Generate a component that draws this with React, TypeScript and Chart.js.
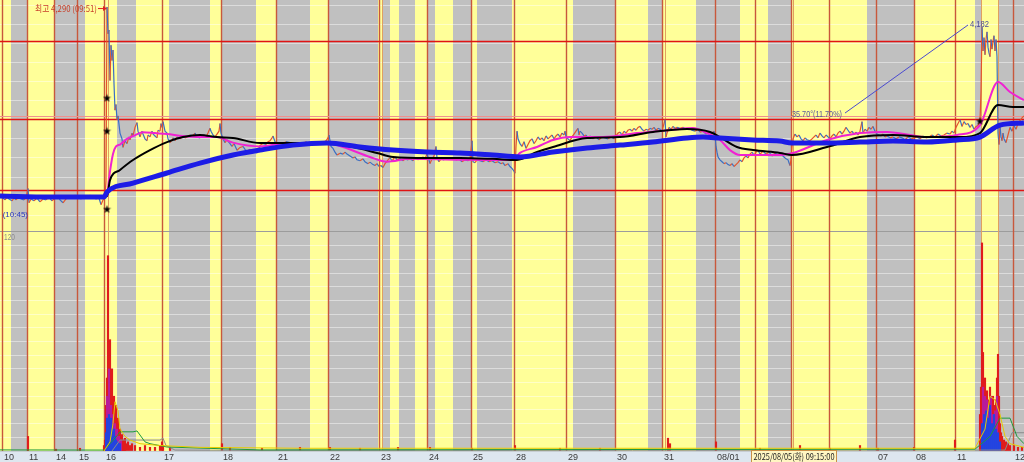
import React, { useEffect, useRef } from "react";
import { Chart, registerables } from "chart.js";

Chart.register(...registerables);

// ---------- time axis (sample index) ----------
const dayStarts = [2, 27, 54, 77, 104, 162, 221, 276, 328, 379, 427, 471, 514, 566, 615, 662, 715, 755, 791, 829, 876, 914, 955, 1013];
const dayLabels = ["10", "11", "14", "15", "16", "17", "18", "21", "22", "23", "24", "25", "28", "29", "30", "31", "08/01", "04", "05", "06", "07", "08", "11", "12"];
const sessionMarks = [108, 382, 665, 793, 981, 998];
const regularSessions: [number, number][] = [
  [0, 11], [27, 54], [85, 117], [136, 169], [210, 221], [256, 276], [310, 328], [378, 383], [390, 399],
  [415, 427], [435, 453], [471, 477], [512, 573], [615, 648], [662, 696], [740, 768], [791, 867], [914, 975], [981, 998],
];
const xMin = 0;
const xMax = 1024;

// ---------- price (won) ----------
const priceMin = 1965;
const priceMax = 4327;
const priceGrid = [3200, 3300, 3400, 3500, 3600, 3700, 3800, 3900, 4000, 4100, 4200, 4300];
const levelLines = [4110, 3705, 3330];
const softLevelLines = [3717];

const priceTicks: [number, number][] = [
  [0, 3300], [3, 3290], [5, 3280], [7, 3295], [9, 3285], [12, 3275], [14, 3290], [16, 3280], [19, 3295], [21, 3285], [24, 3280], [26, 3290],
  [28, 3340], [29, 3265], [31, 3285], [34, 3275], [37, 3290], [40, 3270], [43, 3285], [46, 3280], [49, 3295], [52, 3275], [55, 3290],
  [58, 3300], [60, 3280], [63, 3265], [66, 3285], [69, 3300], [72, 3290], [75, 3305], [78, 3295], [81, 3285], [84, 3300], [87, 3290],
  [90, 3305], [93, 3295], [96, 3285], [99, 3290], [101, 3255], [103, 3280], [105, 3300], [106, 3380], [107, 4290], [108, 4150],
  [109, 4170], [110, 3905], [111, 4090], [112, 4010], [113, 4065], [114, 3890], [115, 3750], [116, 3780], [117, 3700], [118, 3720],
  [120, 3630], [122, 3600], [123, 3555], [125, 3590], [127, 3575], [129, 3610], [130, 3595], [132, 3630], [133, 3615], [135, 3660],
  [137, 3685], [138, 3640], [140, 3610], [142, 3640], [143, 3625], [145, 3600], [147, 3590], [148, 3620], [150, 3610], [152, 3640],
  [153, 3625], [155, 3615], [157, 3605], [158, 3645], [160, 3640], [161, 3680], [162, 3660], [163, 3690], [165, 3640], [167, 3630],
  [168, 3600], [170, 3580], [172, 3595], [173, 3605], [175, 3590], [177, 3610], [180, 3600], [183, 3615], [185, 3605], [187, 3610],
  [190, 3620], [193, 3615], [195, 3630], [197, 3610], [200, 3605], [203, 3620], [206, 3610], [208, 3630], [210, 3655], [211, 3640],
  [213, 3620], [215, 3610], [217, 3625], [219, 3640], [220, 3680], [221, 3630], [223, 3600], [225, 3580], [227, 3595], [230, 3575],
  [232, 3560], [234, 3575], [237, 3540], [240, 3555], [243, 3560], [245, 3545], [247, 3535], [250, 3545], [253, 3530], [255, 3535],
  [257, 3525], [260, 3565], [263, 3575], [266, 3570], [268, 3585], [270, 3590], [272, 3605], [273, 3615], [275, 3585], [277, 3570],
  [280, 3580], [283, 3575], [286, 3585], [290, 3580], [293, 3575], [296, 3570], [300, 3580], [303, 3575], [306, 3585], [310, 3570],
  [313, 3580], [316, 3575], [320, 3585], [323, 3580], [326, 3590], [328, 3605], [329, 3620], [331, 3560], [333, 3550], [335, 3530],
  [337, 3515], [340, 3525], [343, 3520], [345, 3530], [347, 3520], [350, 3510], [353, 3500], [355, 3505], [357, 3490], [360, 3485],
  [363, 3495], [365, 3480], [368, 3470], [370, 3478], [373, 3465], [375, 3460], [377, 3470], [379, 3455], [381, 3460], [383, 3450],
  [385, 3470], [388, 3490], [390, 3500], [392, 3485], [395, 3505], [397, 3490], [400, 3495], [403, 3485], [405, 3495], [408, 3490],
  [410, 3495], [413, 3485], [415, 3500], [418, 3490], [420, 3495], [423, 3505], [425, 3495], [427, 3520], [429, 3490], [430, 3470],
  [432, 3495], [434, 3510], [436, 3560], [437, 3500], [439, 3480], [441, 3495], [444, 3490], [447, 3500], [450, 3495], [453, 3500],
  [456, 3490], [459, 3495], [462, 3480], [465, 3490], [468, 3485], [470, 3495], [471, 3540], [472, 3590], [473, 3480], [475, 3475],
  [477, 3490], [480, 3485], [483, 3480], [486, 3490], [489, 3480], [492, 3485], [495, 3475], [498, 3480], [501, 3470], [503, 3475],
  [505, 3460], [508, 3470], [510, 3455], [512, 3445], [514, 3430], [515, 3420], [516, 3560], [517, 3640], [518, 3600], [520, 3575],
  [522, 3560], [524, 3585], [526, 3550], [528, 3570], [530, 3590], [532, 3600], [534, 3575], [536, 3590], [538, 3610], [540, 3595],
  [542, 3605], [544, 3590], [546, 3615], [548, 3600], [550, 3610], [552, 3620], [554, 3600], [556, 3615], [558, 3625], [560, 3610],
  [562, 3630], [564, 3620], [565, 3640], [566, 3610], [568, 3600], [570, 3590], [572, 3610], [574, 3625], [576, 3640], [578, 3655],
  [579, 3620], [580, 3640], [582, 3630], [584, 3615], [586, 3620], [588, 3605], [590, 3615], [593, 3600], [596, 3610], [599, 3595],
  [602, 3610], [605, 3605], [608, 3600], [611, 3610], [614, 3600], [616, 3615], [618, 3630], [620, 3635], [622, 3620], [624, 3640],
  [626, 3630], [628, 3645], [630, 3650], [632, 3640], [634, 3655], [636, 3645], [638, 3660], [640, 3665], [642, 3650], [644, 3640],
  [646, 3650], [648, 3645], [650, 3655], [652, 3650], [654, 3660], [656, 3645], [658, 3655], [660, 3650], [662, 3640], [664, 3680],
  [665, 3700], [666, 3610], [667, 3630], [669, 3660], [671, 3650], [673, 3665], [675, 3655], [677, 3660], [680, 3655], [683, 3660],
  [686, 3650], [689, 3655], [692, 3645], [695, 3640], [698, 3650], [700, 3635], [703, 3640], [706, 3625], [709, 3635], [712, 3630],
  [714, 3640], [715, 3620], [716, 3560], [717, 3530], [718, 3505], [720, 3490], [722, 3480], [724, 3470], [726, 3475], [728, 3465],
  [730, 3460], [732, 3470], [734, 3455], [736, 3465], [738, 3475], [740, 3490], [742, 3480], [744, 3500], [746, 3510], [748, 3500],
  [750, 3520], [752, 3530], [754, 3515], [756, 3530], [758, 3540], [760, 3520], [763, 3535], [766, 3520], [769, 3530], [772, 3510],
  [775, 3525], [778, 3515], [781, 3520], [784, 3505], [786, 3495], [788, 3490], [789, 3475], [790, 3460], [791, 3490], [792, 3560],
  [793, 3600], [795, 3625], [797, 3610], [799, 3620], [801, 3600], [803, 3590], [805, 3605], [807, 3595], [810, 3590], [812, 3600],
  [814, 3610], [816, 3620], [818, 3605], [820, 3630], [822, 3615], [824, 3605], [826, 3620], [828, 3610], [830, 3600], [832, 3615],
  [834, 3625], [836, 3610], [838, 3630], [840, 3640], [842, 3625], [844, 3640], [846, 3660], [848, 3645], [850, 3630], [852, 3640],
  [854, 3625], [856, 3635], [858, 3620], [860, 3640], [862, 3690], [863, 3630], [865, 3650], [867, 3640], [869, 3660], [871, 3650],
  [873, 3665], [875, 3640], [877, 3625], [879, 3620], [881, 3615], [883, 3625], [885, 3610], [887, 3615], [890, 3605], [893, 3610],
  [896, 3600], [899, 3610], [902, 3605], [905, 3595], [908, 3610], [911, 3600], [914, 3605], [917, 3610], [920, 3600], [923, 3615],
  [926, 3605], [929, 3610], [932, 3620], [935, 3610], [938, 3625], [941, 3615], [944, 3620], [947, 3630], [950, 3625], [952, 3640],
  [954, 3630], [956, 3660], [958, 3680], [960, 3700], [962, 3665], [964, 3690], [966, 3675], [968, 3680], [970, 3660], [972, 3675],
  [974, 3650], [976, 3665], [978, 3670], [980, 3690], [981, 3850], [982, 4185], [983, 4060], [984, 4130], [985, 4040], [986, 4120],
  [987, 4160], [988, 4080], [989, 4050], [990, 4030], [991, 4120], [992, 4070], [993, 4110], [994, 4140], [995, 4060], [996, 4120],
  [997, 4030], [998, 3630], [999, 3570], [1000, 3665], [1001, 3610], [1002, 3590], [1003, 3630], [1004, 3600], [1006, 3580],
  [1008, 3620], [1010, 3660], [1012, 3640], [1014, 3670], [1016, 3650], [1018, 3680], [1020, 3695], [1022, 3710], [1024, 3720],
];

const maShort: [number, number][] = [
  [0, 3295], [104, 3295], [107, 3310], [110, 3430], [113, 3520], [116, 3560], [120, 3570], [127, 3600], [133, 3614], [143, 3635],
  [155, 3630], [167, 3625], [183, 3615], [200, 3610], [217, 3609], [233, 3580], [260, 3560], [287, 3578], [327, 3578], [343, 3557],
  [370, 3505], [387, 3480], [410, 3495], [460, 3490], [493, 3489], [513, 3489], [520, 3526], [537, 3557], [553, 3594], [570, 3609],
  [603, 3609], [637, 3630], [670, 3646], [693, 3656], [707, 3630], [720, 3594], [730, 3541], [740, 3515], [753, 3515], [780, 3515],
  [793, 3526], [827, 3594], [860, 3630], [887, 3636], [927, 3609], [957, 3620], [980, 3672], [998, 3897], [1010, 3845], [1024, 3803],
];
const maMid: [number, number][] = [
  [0, 3300], [104, 3298], [107, 3300], [110, 3384], [120, 3437], [133, 3489], [150, 3541], [167, 3583], [183, 3609], [200, 3620],
  [217, 3609], [233, 3604], [260, 3578], [293, 3578], [327, 3578], [353, 3557], [377, 3526], [393, 3505], [427, 3500], [460, 3500],
  [493, 3495], [517, 3489], [537, 3531], [553, 3557], [587, 3604], [620, 3609], [653, 3636], [687, 3651], [710, 3636], [720, 3609],
  [737, 3557], [753, 3541], [780, 3526], [792, 3515], [827, 3557], [860, 3609], [893, 3620], [927, 3609], [960, 3609], [980, 3630],
  [998, 3777], [1013, 3767], [1024, 3767],
];
const maLong: [number, number][] = [
  [0, 3300], [50, 3295], [104, 3295], [107, 3321], [133, 3368], [167, 3421], [200, 3473], [233, 3515], [260, 3541], [293, 3567],
  [327, 3578], [360, 3557], [393, 3541], [427, 3531], [460, 3526], [493, 3515], [520, 3505], [553, 3531], [587, 3552], [620, 3567],
  [653, 3583], [687, 3604], [703, 3609], [720, 3604], [753, 3594], [780, 3588], [792, 3578], [827, 3578], [860, 3583], [893, 3588],
  [927, 3583], [957, 3594], [980, 3609], [1000, 3672], [1024, 3683],
];

const signalStars: [number, number][] = [[107, 3814], [107, 3641], [107, 3232], [980, 3693]];
const trendLine: [number, number][] = [[845, 3735], [968, 4196]];
const trendLabel = "35.70°(11.70%)";
const highMark = { x: 107, price: 4290, label: "최고 4,290 (09:51)" };
const lowMark = { x: 28, price: 3201, label: "3,165 (10:45)" };
const recentHigh = { x: 982, price: 4185, label: "4,182" };
const cursorX = 793;
const cursorHalfSpan = 45;
const cursorLabel = "2025/08/05(화) 09:15:00";

// ---------- volume (thousand shares) ----------
const volumeMax = 247.1;
const volumeGrid = [0, 7.5, 15, 22.5, 30, 37.5, 45, 52.5, 60, 67.5, 75, 82.5, 90, 97.5, 105, 112.5, 120];
const volumeTop = 120;

const volUp: [number, number][] = [
  [28, 8], [56, 1], [80, 1.5], [104, 3], [105, 6], [106, 25], [107, 40], [108, 107], [109, 50], [110, 61], [111, 35], [112, 45],
  [113, 28], [114, 30], [115, 20], [116, 25], [117, 15], [118, 18], [119, 10], [120, 12], [121, 8], [122, 9], [123, 6], [124, 5],
  [125, 7], [126, 4], [128, 5], [130, 3], [132, 4], [135, 3], [140, 2], [145, 3], [150, 2], [155, 2], [160, 3], [162, 5], [163, 3],
  [170, 2], [222, 4], [230, 2], [262, 1.5], [300, 2], [330, 2], [360, 1.5], [398, 2], [430, 2], [472, 1.5], [515, 3], [560, 1.5],
  [600, 1.5], [668, 7], [670, 4], [716, 5], [760, 1.5], [800, 3], [830, 1.5], [860, 3], [878, 1.5], [914, 2], [955, 6], [980, 20],
  [981, 35], [982, 114], [983, 54], [984, 30], [985, 40], [986, 25], [987, 33], [988, 28], [989, 20], [990, 35], [991, 22],
  [992, 18], [993, 30], [994, 25], [995, 20], [996, 28], [997, 40], [998, 53], [999, 30], [1000, 15], [1001, 10], [1002, 8],
  [1004, 6], [1006, 5], [1008, 4], [1010, 3], [1014, 3], [1018, 2], [1022, 2],
];
const volMixed: [number, number][] = [
  [107, 30], [109, 45], [111, 25], [113, 20], [115, 15], [117, 12], [119, 8], [121, 6], [983, 35], [985, 30], [987, 28],
  [989, 25], [991, 30], [993, 20], [995, 22], [997, 30],
];
const volDown: [number, number][] = [
  [106, 10], [107, 18], [108, 15], [109, 20], [110, 12], [111, 18], [112, 14], [113, 10], [114, 12], [115, 8], [116, 6], [118, 5],
  [120, 4], [982, 15], [984, 20], [986, 22], [988, 18], [990, 25], [992, 15], [994, 20], [996, 12], [998, 10], [1000, 5],
];
const volAvgShort: [number, number][] = [
  [104, 0], [110, 5], [113, 15], [115, 27], [118, 22], [120, 12], [125, 8], [130, 6], [140, 4], [160, 3], [200, 2], [300, 1.5],
  [600, 1.5], [975, 1.5], [985, 12], [990, 30], [995, 28], [1000, 20], [1005, 8], [1010, 4], [1024, 2],
];
const volAvgMid: [number, number][] = [
  [0, 0.6], [104, 0.5], [110, 4], [118, 9], [120, 10.5], [133, 10.5], [137, 11], [145, 5], [150, 4], [167, 2.2], [200, 1.6],
  [260, 0.6], [600, 0.8], [975, 1], [990, 8], [1000, 18], [1010, 18], [1017, 8], [1024, 4],
];
const volAvgLong: [number, number][] = [
  [112, 0], [120, 6], [160, 6], [163, 7], [166, 3], [175, 0.5], [260, 0.3], [1005, 0.5], [1012, 10], [1024, 10],
];

// ---------- helpers ----------
const pts = (a: [number, number][]) => a.map(([x, y]) => ({ x, y }));

function makeStar(): HTMLCanvasElement {
  const c = document.createElement("canvas");
  c.width = 9;
  c.height = 9;
  const g = c.getContext("2d")!;
  g.fillStyle = "#000";
  g.beginPath();
  for (let i = 0; i < 10; i++) {
    const r = i % 2 ? 1.7 : 4.2;
    const a = -Math.PI / 2 + (i * Math.PI) / 5;
    g.lineTo(4.5 + r * Math.cos(a), 4.8 + r * Math.sin(a));
  }
  g.closePath();
  g.fill();
  return c;
}

function fitText(ctx: CanvasRenderingContext2D, text: string, x: number, y: number, w: number) {
  const m = ctx.measureText(text).width || 1;
  ctx.save();
  ctx.translate(x, y);
  ctx.scale(w / m, 1);
  ctx.textAlign = "left";
  ctx.fillText(text, 0, 0);
  ctx.restore();
}

const decor = {
  id: "decor",
  beforeDraw(chart: any) {
    const { ctx, chartArea: a, scales } = chart;
    const x = scales.x;
    ctx.save();
    ctx.fillStyle = "#c0c0c0";
    ctx.fillRect(a.left, a.top, a.right - a.left, a.bottom - a.top);
    ctx.fillStyle = "#ffff99";
    for (const [s, e] of regularSessions) {
      const x0 = x.getPixelForValue(s);
      const x1 = x.getPixelForValue(e);
      ctx.fillRect(x0, a.top, x1 - x0, a.bottom - a.top);
    }
    ctx.fillStyle = "#dde6ef";
    ctx.fillRect(0, a.bottom, chart.width, chart.height - a.bottom);
    ctx.strokeStyle = "#9aa4ae";
    ctx.lineWidth = 1;
    ctx.beginPath();
    ctx.moveTo(0, a.bottom + 0.5);
    ctx.lineTo(chart.width, a.bottom + 0.5);
    ctx.stroke();
    ctx.restore();
  },
  beforeDatasetsDraw(chart: any) {
    const { ctx, chartArea: a, scales } = chart;
    const x = scales.x;
    const y = scales.y;
    ctx.save();
    ctx.lineWidth = 1;
    ctx.strokeStyle = "#e0a060";
    for (const v of sessionMarks) {
      const px = Math.round(x.getPixelForValue(v)) + 0.5;
      ctx.beginPath();
      ctx.moveTo(px, a.top);
      ctx.lineTo(px, a.bottom);
      ctx.stroke();
    }
    ctx.lineWidth = 1.4;
    ctx.strokeStyle = "#c8583c";
    for (const v of dayStarts) {
      const px = Math.round(x.getPixelForValue(v)) + 0.5;
      ctx.beginPath();
      ctx.moveTo(px, a.top);
      ctx.lineTo(px, a.bottom);
      ctx.stroke();
    }
    ctx.lineWidth = 1;
    ctx.strokeStyle = "#f09090";
    for (const v of softLevelLines) {
      const py = Math.round(y.getPixelForValue(v)) + 0.5;
      ctx.beginPath();
      ctx.moveTo(a.left, py);
      ctx.lineTo(a.right, py);
      ctx.stroke();
    }
    ctx.lineWidth = 1.5;
    ctx.strokeStyle = "#e01414";
    for (const v of levelLines) {
      const py = Math.round(y.getPixelForValue(v)) + 0.5;
      ctx.beginPath();
      ctx.moveTo(a.left, py);
      ctx.lineTo(a.right, py);
      ctx.stroke();
    }
    ctx.restore();
  },
  afterDatasetsDraw(chart: any) {
    const { ctx, scales } = chart;
    const x = scales.x;
    const y = scales.y;
    const y2 = scales.y2;
    ctx.save();
    ctx.textBaseline = "middle";
    // highest price
    const hx = x.getPixelForValue(highMark.x);
    const hy = y.getPixelForValue(highMark.price);
    ctx.font = "9px 'Noto Sans CJK KR', 'DejaVu Sans', sans-serif";
    ctx.fillStyle = "#c8402a";
    fitText(ctx, highMark.label, hx - 72, hy + 1.5, 62);
    ctx.strokeStyle = "#e02020";
    ctx.lineWidth = 1;
    ctx.beginPath();
    ctx.moveTo(hx - 9, hy + 1.5);
    ctx.lineTo(hx - 1, hy + 1.5);
    ctx.stroke();
    ctx.fillStyle = "#e02020";
    ctx.beginPath();
    ctx.moveTo(hx, hy + 1.5);
    ctx.lineTo(hx - 4, hy - 1);
    ctx.lineTo(hx - 4, hy + 4);
    ctx.closePath();
    ctx.fill();
    // lowest label (clipped at left edge)
    const lx = x.getPixelForValue(lowMark.x);
    const ly = y.getPixelForValue(lowMark.price);
    ctx.font = "8px 'Liberation Sans', sans-serif";
    ctx.fillStyle = "#2838c0";
    const lw = ctx.measureText(lowMark.label).width;
    fitText(ctx, lowMark.label, lx - lw, ly, lw);
    // recent high
    const rx = x.getPixelForValue(recentHigh.x);
    const ry = y.getPixelForValue(recentHigh.price);
    ctx.font = "9px 'Liberation Sans', sans-serif";
    ctx.fillStyle = "#4a4a9a";
    fitText(ctx, recentHigh.label, rx - 12, ry - 3, 19);
    // trend label
    const tx = x.getPixelForValue(trendLine[0][0]);
    const ty = y.getPixelForValue(trendLine[0][1]);
    ctx.fillStyle = "#5a5a9a";
    fitText(ctx, trendLabel, tx - 53, ty + 1, 50);
    // volume pane top value
    ctx.fillStyle = "#8c8c8c";
    fitText(ctx, String(volumeTop), 4, y2.getPixelForValue(volumeTop) + 6, 11);
    ctx.restore();
  },
  afterDraw(chart: any) {
    const { ctx, chartArea: a, scales } = chart;
    const cx = scales.x.getPixelForValue(cursorX);
    ctx.save();
    const w = 85;
    const h = 12;
    const left = Math.round(cx - w / 2) + 0.5;
    const top = a.bottom - 1 + 0.5;
    ctx.fillStyle = "#fff6c2";
    ctx.fillRect(left, top, w, h);
    ctx.strokeStyle = "#c89048";
    ctx.lineWidth = 1;
    ctx.strokeRect(left, top, w, h);
    ctx.fillStyle = "#222";
    ctx.font = "9px 'Noto Sans CJK KR', 'Liberation Sans', sans-serif";
    ctx.textBaseline = "middle";
    fitText(ctx, cursorLabel, left + 2, top + h / 2 + 0.5, w - 4);
    ctx.restore();
  },
};

export default function App() {
  const ref = useRef<HTMLCanvasElement>(null);
  useEffect(() => {
    if (!ref.current) return;
    const star = makeStar();
    const chart = new Chart(ref.current, {
      type: "line",
      data: {
        datasets: [
          { label: "trend", data: pts(trendLine), borderColor: "#4a4ad0", borderWidth: 1, pointRadius: 0, order: 0, yAxisID: "y" },
          {
            label: "signal", data: pts(signalStars), showLine: false, pointStyle: star as any, pointRadius: 4,
            order: 0, yAxisID: "y",
          },
          { label: "MA long", data: pts(maLong), borderColor: "#1c1ce6", borderWidth: 5, pointRadius: 0, cubicInterpolationMode: "monotone", order: 1, yAxisID: "y" },
          { label: "MA mid", data: pts(maMid), borderColor: "#000000", borderWidth: 2, pointRadius: 0, cubicInterpolationMode: "monotone", order: 2, yAxisID: "y" },
          { label: "MA short", data: pts(maShort), borderColor: "#f022d2", borderWidth: 2, pointRadius: 0, cubicInterpolationMode: "monotone", order: 3, yAxisID: "y" },
          {
            label: "price", data: pts(priceTicks), borderWidth: 1.2, pointRadius: 0, order: 4, yAxisID: "y",
            borderColor: "#3a6fc4",
            segment: {
              borderColor: (c: any) => (c.p1.parsed.y >= c.p0.parsed.y ? "#e4542c" : "#3a6fc4"),
            },
          },
          { label: "vol avg short", data: pts(volAvgShort), borderColor: "#e6cc00", borderWidth: 1, pointRadius: 0, order: 5, yAxisID: "y2" },
          { label: "vol avg mid", data: pts(volAvgMid), borderColor: "#1f9a3c", borderWidth: 1, pointRadius: 0, order: 5, yAxisID: "y2" },
          { label: "vol avg long", data: pts(volAvgLong), borderColor: "#8a8a8a", borderWidth: 1, pointRadius: 0, order: 5, yAxisID: "y2" },
          { type: "bar", label: "vol down", data: pts(volDown), backgroundColor: "#2444e0", barThickness: 1.5, grouped: false, order: 6, yAxisID: "y2" } as any,
          { type: "bar", label: "vol mixed", data: pts(volMixed), backgroundColor: "#b81c9a", barThickness: 1.5, grouped: false, order: 7, yAxisID: "y2" } as any,
          { type: "bar", label: "vol up", data: pts(volUp), backgroundColor: "#e01c1c", barThickness: 1.5, grouped: false, order: 8, yAxisID: "y2" } as any,
        ],
      },
      options: {
        animation: false,
        responsive: true,
        maintainAspectRatio: false,
        events: [],
        layout: { padding: 0, autoPadding: false },
        plugins: { legend: { display: false }, tooltip: { enabled: false } },
        scales: {
          x: {
            type: "linear",
            min: xMin,
            max: xMax,
            offset: false,
            grid: { display: false, drawTicks: false, offset: false },
            border: { display: false },
            afterBuildTicks: (s: any) => {
              s.ticks = dayStarts.map((v) => ({ value: v }));
            },
            afterFit: (s: any) => {
              s.height = 11;
              s.paddingLeft = 0;
              s.paddingRight = 0;
            },
            ticks: {
              autoSkip: false,
              maxRotation: 0,
              minRotation: 0,
              align: "start",
              labelOffset: 2,
              padding: 1,
              color: "#3a3a3a",
              font: { family: "'Liberation Sans', sans-serif", size: 9 },
              // labels hidden beneath the crosshair time label are not shown
              callback: (v: any, i: number) =>
                Math.abs(Number(v) - cursorX) <= cursorHalfSpan ? "" : dayLabels[i] ?? "",
            },
          },
          y: {
            type: "linear",
            position: "left",
            min: priceMin,
            max: priceMax,
            border: { display: false },
            ticks: { display: false },
            afterBuildTicks: (s: any) => {
              s.ticks = priceGrid.map((v) => ({ value: v }));
            },
            afterFit: (s: any) => {
              s.width = 0;
            },
            grid: { color: "rgba(255,255,255,0.45)", drawTicks: false, lineWidth: 1 },
          },
          y2: {
            type: "linear",
            position: "right",
            min: 0,
            max: volumeMax,
            border: { display: false },
            ticks: { display: false },
            afterBuildTicks: (s: any) => {
              s.ticks = volumeGrid.map((v) => ({ value: v }));
            },
            afterFit: (s: any) => {
              s.width = 0;
            },
            grid: {
              drawTicks: false,
              lineWidth: 1,
              color: (c: any) => (c.tick && c.tick.value === volumeTop ? "#9c9c9c" : "rgba(255,255,255,0.45)"),
            },
          },
        },
      } as any,
      plugins: [decor],
    });
    return () => chart.destroy();
  }, []);

  return (
    <div style={{ position: "fixed", left: 0, top: 0, width: 1024, height: 462, background: "#dde6ef" }}>
      <canvas ref={ref} />
    </div>
  );
}
